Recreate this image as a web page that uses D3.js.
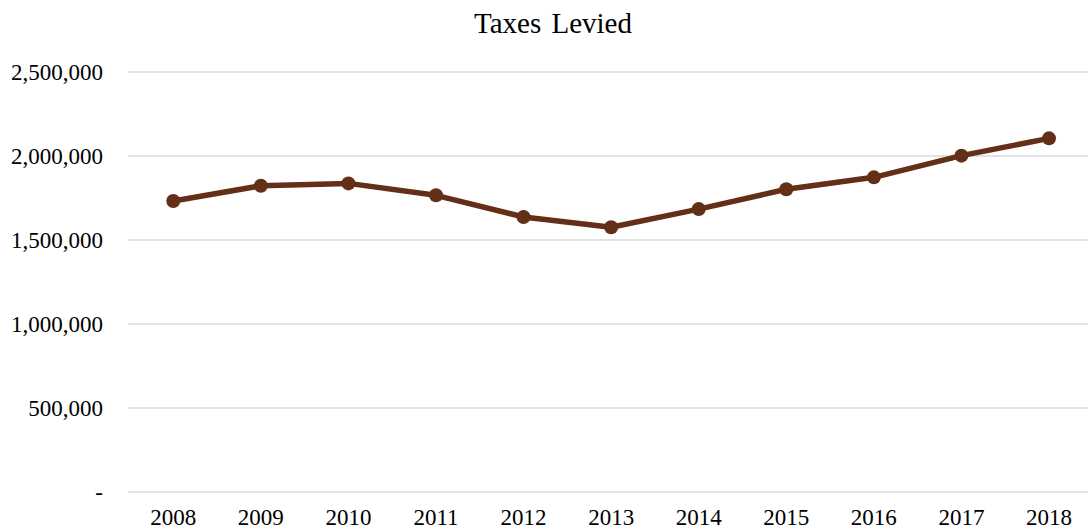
<!DOCTYPE html>
<html>
<head>
<meta charset="utf-8">
<script src="https://cdnjs.cloudflare.com/ajax/libs/d3/7.8.5/d3.min.js"></script>
<style>
  body { margin: 0; background: #fff; }
  svg { display: block; font-family: "Liberation Serif", "Times New Roman", serif; }
</style>
</head>
<body>
<svg width="1088" height="531"></svg>

<script>

var years = ["2008", "2009", "2010", "2011", "2012", "2013", "2014", "2015", "2016", "2017", "2018"];
var taxes = [1732000, 1823000, 1837000, 1766000, 1637000, 1576000, 1684000, 1802000, 1873000, 2002000, 2105000];
var yTicks = [0, 500000, 1000000, 1500000, 2000000, 2500000];

var svg = d3.select("svg");

var x = d3.scaleBand()
    .domain(years)
    .range([129.5, 1092.8]);

var y = d3.scaleLinear()
    .domain([0, 2500000])
    .range([492, 72]);

var fmt = d3.format(",");

// gridlines
svg.append("g")
  .selectAll("line")
  .data(yTicks)
  .enter().append("line")
    .attr("x1", 128)
    .attr("x2", 1088)
    .attr("y1", function(d) { return y(d); })
    .attr("y2", function(d) { return y(d); })
    .attr("stroke", "#d9d9d9")
    .attr("stroke-width", 1.5);

// y labels
svg.append("g")
  .selectAll("text")
  .data(yTicks)
  .enter().append("text")
    .attr("x", 103)
    .attr("y", function(d) { return y(d); })
    .attr("dy", "0.33em")
    .attr("text-anchor", "end")
    .attr("font-size", 23)
    .attr("fill", "#000")
    .text(function(d) { return d === 0 ? "-" : fmt(d); });

// x labels (kept just inside the bottom edge)
svg.append("g")
  .selectAll("text")
  .data(years)
  .enter().append("text")
    .attr("x", function(d) { return x(d) + x.bandwidth() / 2; })
    .attr("y", 525)
    .attr("text-anchor", "middle")
    .attr("font-size", 23)
    .attr("fill", "#000")
    .text(function(d) { return d; });

var line = d3.line()
    .x(function(d, i) { return x(years[i]) + x.bandwidth() / 2; })
    .y(function(d) { return y(d); });

svg.append("path")
    .datum(taxes)
    .attr("fill", "none")
    .attr("stroke", "#632f16")
    .attr("stroke-width", 5.5)
    .attr("stroke-linejoin", "round")
    .attr("d", line);

svg.append("g")
  .selectAll("circle")
  .data(taxes)
  .enter().append("circle")
    .attr("cx", function(d, i) { return x(years[i]) + x.bandwidth() / 2; })
    .attr("cy", function(d) { return y(d); })
    .attr("r", 7)
    .attr("fill", "#632f16");

svg.append("text")
    .attr("x", 553)
    .attr("y", 33)
    .attr("text-anchor", "middle")
    .attr("font-size", 29)
    .attr("fill", "#000")
    .attr("word-spacing", 3)
    .text("Taxes Levied");

</script>
</body>
</html>
